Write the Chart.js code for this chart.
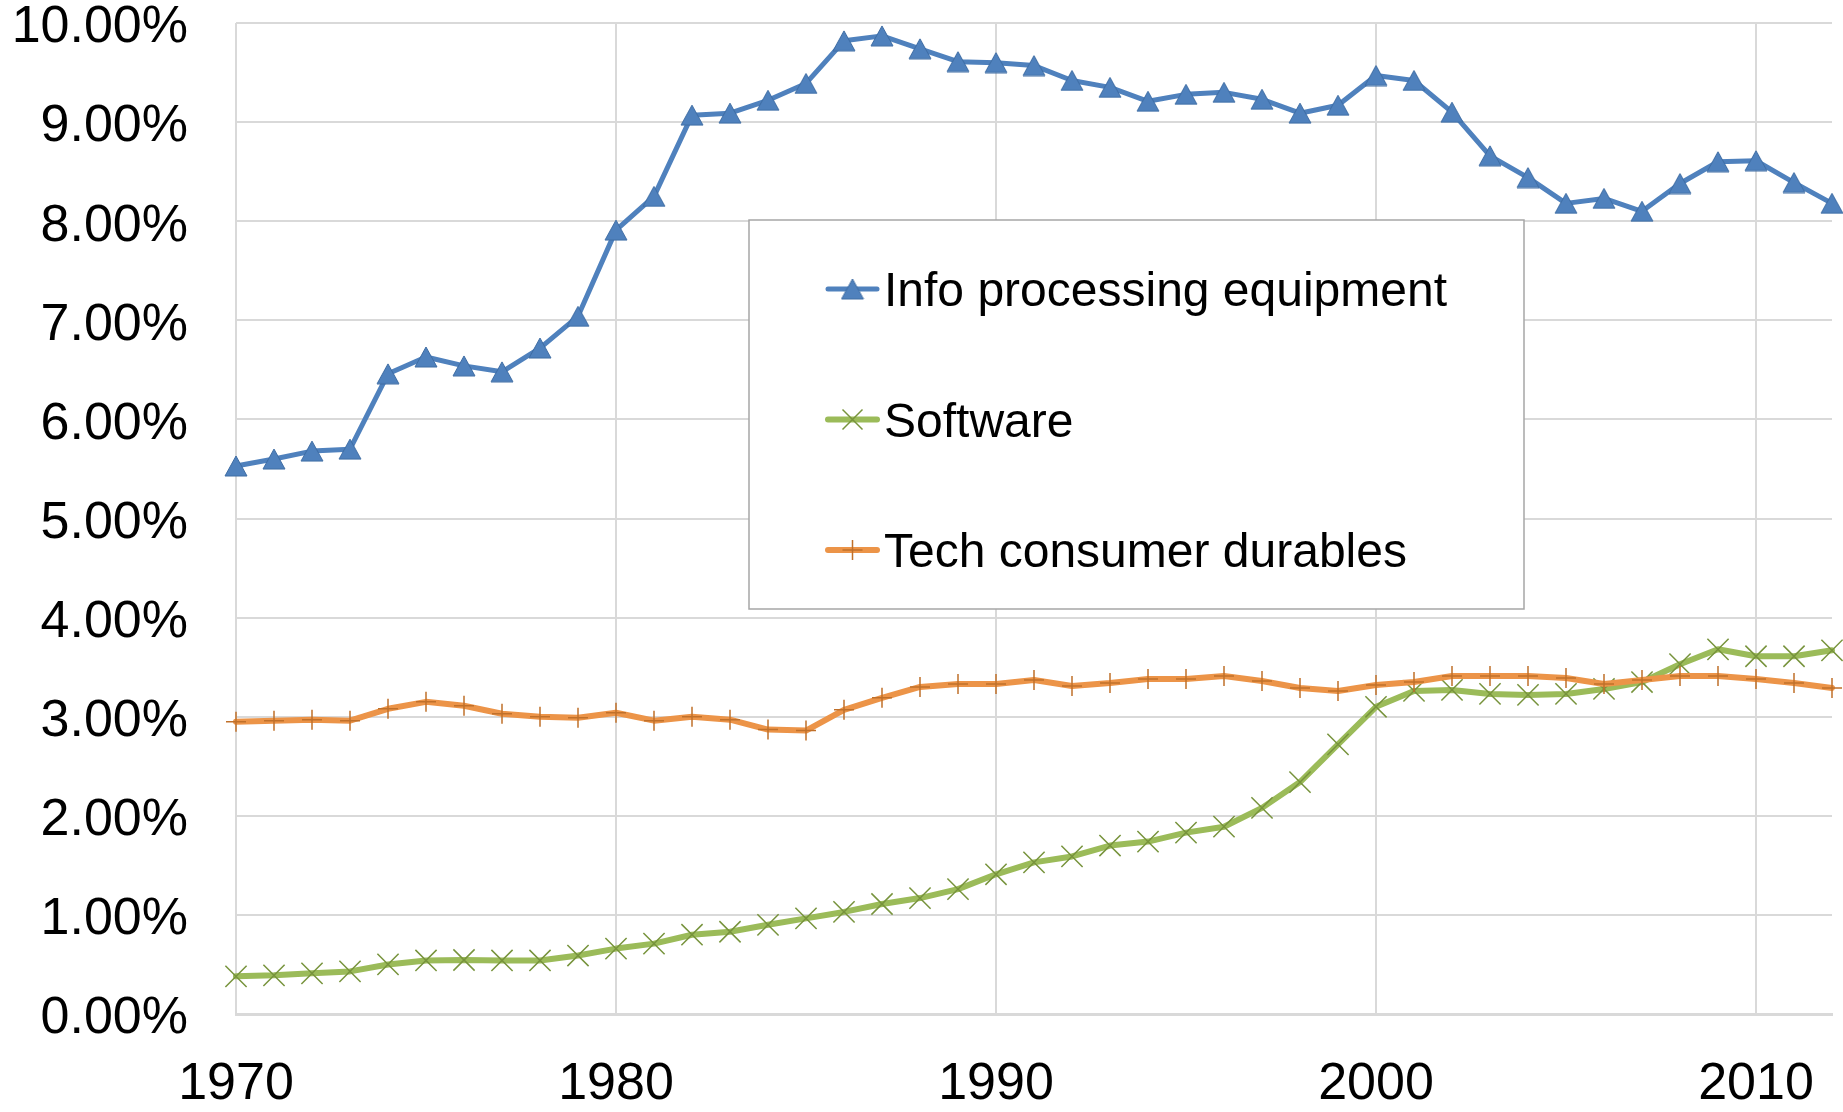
<!DOCTYPE html>
<html><head><meta charset="utf-8">
<script src="https://cdn.jsdelivr.net/npm/chart.js@4.4.0/dist/chart.umd.min.js"></script>
<style>html,body{margin:0;padding:0;background:#fff;overflow:hidden}#wrap{position:relative;width:1843px;height:1112px}canvas{display:block}</style>
</head><body><div id="wrap"><canvas id="c" width="1843" height="1112"></canvas></div>
<script>
const years = [1970,1971,1972,1973,1974,1975,1976,1977,1978,1979,
  1980,1981,1982,1983,1984,1985,1986,1987,1988,1989,
  1990,1991,1992,1993,1994,1995,1996,1997,1998,1999,
  2000,2001,2002,2003,2004,2005,2006,2007,2008,2009,
  2010,2011,2012];
const infoProcessing = [5.53,5.60,5.68,5.70,6.46,6.63,6.54,6.48,6.72,7.04,
  7.91,8.25,9.07,9.09,9.22,9.39,9.82,9.87,9.74,9.61,
  9.60,9.57,9.42,9.35,9.21,9.28,9.30,9.23,9.09,9.17,
  9.47,9.42,9.10,8.66,8.44,8.18,8.23,8.10,8.38,8.60,
  8.61,8.39,8.18];
const software = [0.38,0.39,0.41,0.43,0.50,0.54,0.545,0.54,0.54,0.59,
  0.66,0.71,0.80,0.83,0.90,0.965,1.03,1.11,1.17,1.26,
  1.41,1.53,1.59,1.70,1.74,1.83,1.89,2.08,2.34,2.72,
  3.10,3.26,3.27,3.23,3.22,3.23,3.28,3.35,3.53,3.68,
  3.61,3.61,3.67];
const techDurables = [2.95,2.96,2.97,2.96,3.08,3.15,3.11,3.03,3.00,2.99,
  3.04,2.96,3.00,2.97,2.87,2.86,3.07,3.19,3.30,3.33,
  3.33,3.37,3.31,3.34,3.38,3.38,3.41,3.36,3.29,3.26,
  3.32,3.35,3.41,3.41,3.41,3.39,3.33,3.37,3.41,3.41,
  3.38,3.34,3.29];
const seriesNames = ['Info processing equipment','Software','Tech consumer durables'];
const xTicks = [1970,1980,1990,2000,2010];
const yTicks = [0,1,2,3,4,5,6,7,8,9,10];

const FONT = '"Liberation Sans", Arial, sans-serif';
const BLUE = '#4F81BD', GREEN = '#9BBB59', ORANGE = '#EC9448';

// Excel-like triangle marker (bounding-box centred)
const tri = document.createElement('canvas');
tri.width = 24; tri.height = 22;
(function(){
  const t = tri.getContext('2d');
  t.beginPath(); t.moveTo(12,1); t.lineTo(23,21); t.lineTo(1,21); t.closePath();
  t.fillStyle = BLUE; t.fill();
  t.strokeStyle = '#3E6CA3'; t.lineWidth = 1; t.stroke();
})();

function pts(arr){ return years.map((yr,i)=>({x:yr,y:arr[i]})); }

const legendPlugin = {
  id:'boxLegend',
  afterDraw(chart){
    const ctx = chart.ctx;
    ctx.save();
    ctx.fillStyle = '#fff';
    ctx.fillRect(749,220,775,389);
    ctx.strokeStyle = '#a6a6a6'; ctx.lineWidth = 1.5;
    ctx.strokeRect(749,220,775,389);
    const rows = [289, 419.5, 550];
    const styles = [
      {c:BLUE, w:5, m:'tri'},
      {c:GREEN, w:6, m:'x', mc:'#77933C'},
      {c:ORANGE, w:6, m:'+', mc:'#C0702A'}
    ];
    styles.forEach((s,i)=>{
      const y = rows[i];
      ctx.strokeStyle = s.c; ctx.lineWidth = s.w; ctx.lineCap = 'round';
      ctx.beginPath(); ctx.moveTo(828,y); ctx.lineTo(877,y); ctx.stroke();
      const cx = 852.5;
      if (s.m === 'tri') {
        ctx.drawImage(tri, cx-12, y-11);
      } else if (s.m === 'x') {
        ctx.strokeStyle = s.mc; ctx.lineWidth = 1.5; ctx.lineCap='butt';
        ctx.beginPath(); ctx.moveTo(cx-10,y-10); ctx.lineTo(cx+10,y+10);
        ctx.moveTo(cx+10,y-10); ctx.lineTo(cx-10,y+10); ctx.stroke();
      } else {
        ctx.strokeStyle = s.mc; ctx.lineWidth = 1.5; ctx.lineCap='butt';
        ctx.beginPath(); ctx.moveTo(cx-10,y); ctx.lineTo(cx+10,y);
        ctx.moveTo(cx,y-10); ctx.lineTo(cx,y+10); ctx.stroke();
      }
      ctx.fillStyle = '#000';
      ctx.font = '48px ' + FONT;
      ctx.textBaseline = 'alphabetic';
      ctx.textAlign = 'left';
      ctx.fillText(seriesNames[i], 884, y + 17);
    });
    ctx.restore();
  }
};

new Chart(document.getElementById('c'), {
  type: 'line',
  data: {
    datasets: [
      { label: seriesNames[0], data: pts(infoProcessing), borderColor: BLUE, borderWidth: 5,
        pointStyle: tri, pointRadius: 11, pointHoverRadius: 11, order: 2, clip: false },
      { label: seriesNames[1], data: pts(software), borderColor: GREEN, borderWidth: 6,
        pointStyle: 'crossRot', pointRadius: 15, pointHoverRadius: 15, pointBorderColor: '#77933C',
        pointBorderWidth: 1.5, order: 1, clip: false },
      { label: seriesNames[2], data: pts(techDurables), borderColor: ORANGE, borderWidth: 6,
        pointStyle: 'cross', pointRadius: 10, pointHoverRadius: 10, pointBorderColor: '#C0702A',
        pointBorderWidth: 1.5, order: 0, clip: false }
    ]
  },
  options: {
    responsive: false,
    animation: false,
    devicePixelRatio: 1,
    datasets: { line: { tension: 0, borderJoinStyle: 'round', borderCapStyle: 'round', fill: false } },
    layout: { autoPadding: false, padding: { top: 23, right: 11, left: 0, bottom: 0 } },
    plugins: { legend: { display: false }, tooltip: { enabled: false }, title: { display: false } },
    scales: {
      x: {
        type: 'linear', min: 1970, max: 2012,
        afterBuildTicks: s => { s.ticks = xTicks.map(v => ({ value: v })); },
        afterFit: s => { s.height = 98; s.paddingLeft = 0; s.paddingRight = 0; },
        ticks: { font: { size: 52, family: FONT }, color: '#000', padding: 39, maxRotation: 0,
          callback: v => String(v) },
        grid: { color: '#d9d9d9', lineWidth: 2, drawTicks: false },
        border: { display: true, color: '#d9d9d9', width: 3 }
      },
      y: {
        min: 0, max: 10,
        afterBuildTicks: s => { s.ticks = yTicks.map(v => ({ value: v })); },
        afterFit: s => { s.width = 236; s.paddingTop = 0; s.paddingBottom = 0; },
        ticks: { font: { size: 52, family: FONT }, color: '#000', padding: 48, labelOffset: 5,
          callback: v => Number(v).toFixed(2) + '%' },
        grid: { color: '#d9d9d9', lineWidth: 2, drawTicks: false },
        border: { display: false }
      }
    }
  },
  plugins: [legendPlugin]
});
</script>
</body></html>
